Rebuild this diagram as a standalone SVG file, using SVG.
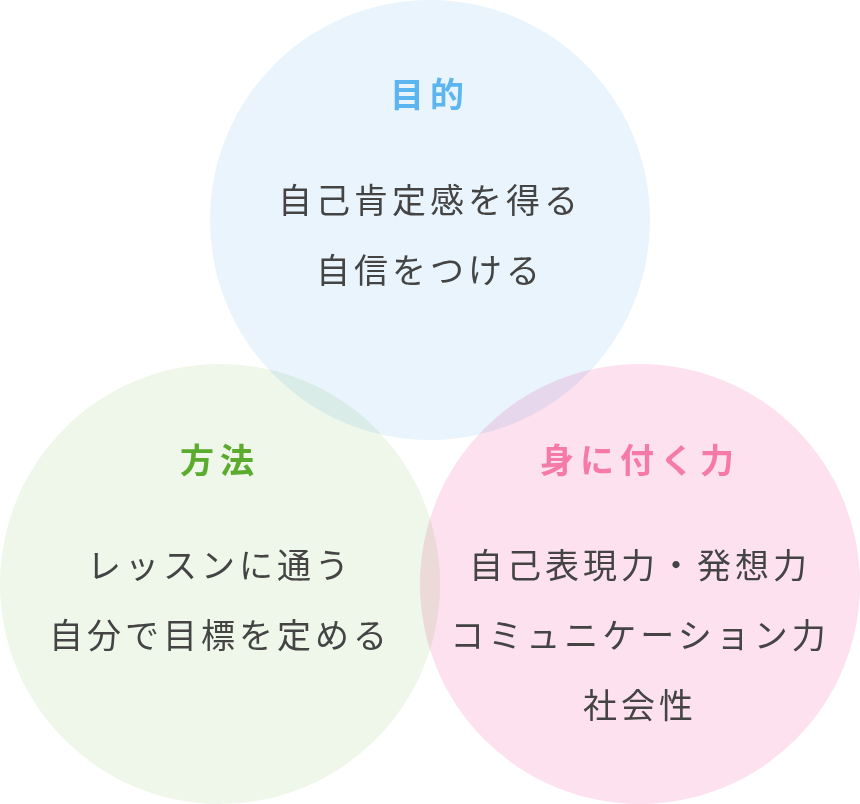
<svg xmlns="http://www.w3.org/2000/svg" width="860" height="804" viewBox="0 0 860 804">
<style>
text{font-family:"Noto Sans CJK JP","Noto Sans",sans-serif;text-anchor:middle;dominant-baseline:central}
.b{font-size:34px;fill:#444;letter-spacing:4px}
.t{font-size:34px;font-weight:bold;letter-spacing:6px}
circle{mix-blend-mode:multiply}
</style>
<rect width="860" height="804" fill="#fff"/>
<g id="purpose"><circle cx="430" cy="220" r="220" fill="#e9f4fd"/></g>
<g id="method"><circle cx="220" cy="584" r="220" fill="#eef7e9"/></g>
<g id="skills"><circle cx="640" cy="584" r="220" fill="#fde1ee"/></g>
<g id="labels">
<text class="t" x="430" y="92" fill="#5db5f0">目的</text>
<text class="b" x="430" y="198">自己肯定感を得る</text>
<text class="b" x="430" y="268">自信をつける</text>
<text class="t" x="220" y="458" fill="#5aab2e">方法</text>
<text class="b" x="220" y="563">レッスンに通う</text>
<text class="b" x="220" y="633">自分で目標を定める</text>
<text class="t" x="640" y="458" fill="#f57aa8">身に付く力</text>
<text class="b" x="640" y="563">自己表現力・発想力</text>
<text class="b" x="640" y="633">コミュニケーション力</text>
<text class="b" x="640" y="703">社会性</text>
</g>
<g id="connectors"/>
</svg>
